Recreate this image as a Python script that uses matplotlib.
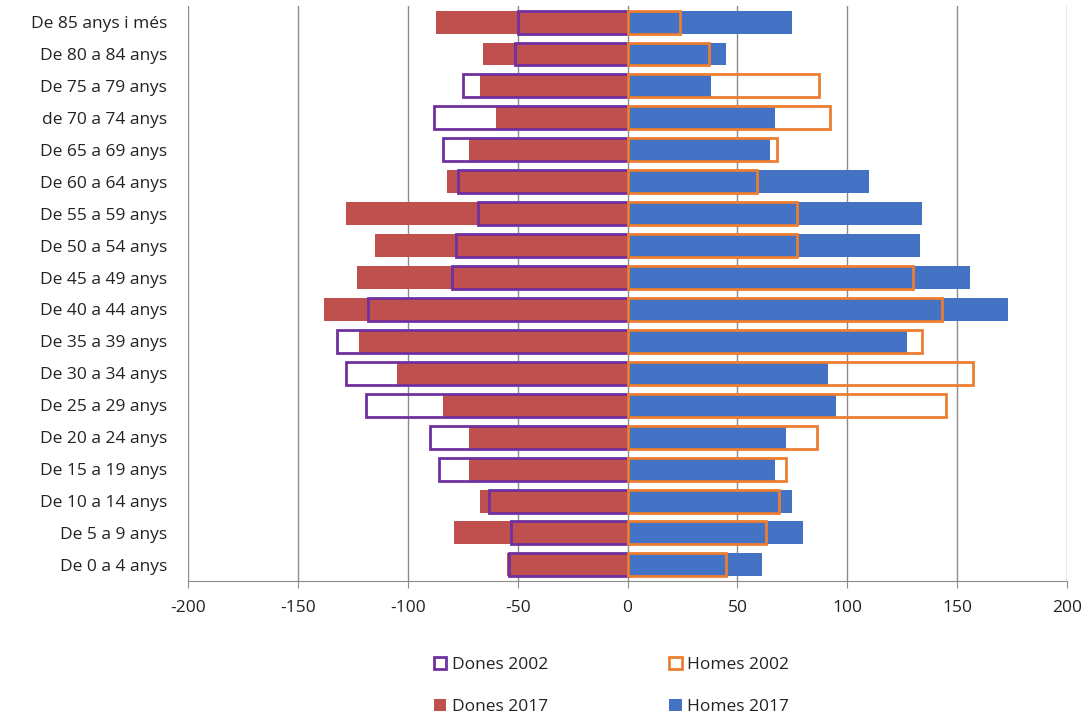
import numpy as np
import matplotlib.pyplot as plt

plt.rcParams['font.family'] = ['Open Sans', 'DejaVu Sans']
plt.rcParams['axes.unicode_minus'] = False

# age groups, bottom to top
grups = ['De 0 a 4 anys', 'De 5 a 9 anys', 'De 10 a 14 anys', 'De 15 a 19 anys',
         'De 20 a 24 anys', 'De 25 a 29 anys', 'De 30 a 34 anys', 'De 35 a 39 anys',
         'De 40 a 44 anys', 'De 45 a 49 anys', 'De 50 a 54 anys', 'De 55 a 59 anys',
         'De 60 a 64 anys', 'De 65 a 69 anys', 'de 70 a 74 anys', 'De 75 a 79 anys',
         'De 80 a 84 anys', 'De 85 anys i més']

dones_2017 = [55, 79, 67, 72, 72, 84, 105, 122, 138, 123, 115, 128, 82, 72, 60, 67, 66, 87]
dones_2002 = [54, 53, 63, 86, 90, 119, 128, 132, 118, 80, 78, 68, 77, 84, 88, 75, 51, 50]
homes_2017 = [61, 80, 75, 67, 72, 95, 91, 127, 173, 156, 133, 134, 110, 65, 67, 38, 45, 75]
homes_2002 = [45, 63, 69, 72, 86, 145, 157, 134, 143, 130, 77, 77, 59, 68, 92, 87, 37, 24]

col_dones17 = '#C0504D'
col_homes17 = '#4472C4'
col_dones02 = '#7030A0'
col_homes02 = '#ED7D31'

fig = plt.figure(figsize=(10.9, 7.18), dpi=100)
ax = fig.add_axes([0.1725, 0.191, 0.8065, 0.8005])

y = np.arange(len(grups))
h = 0.72

ax.barh(y, -np.array(dones_2017), height=h, color=col_dones17, zorder=2, label='Dones 2017')
ax.barh(y, homes_2017, height=h, color=col_homes17, zorder=2, label='Homes 2017')
ax.barh(y, -np.array(dones_2002), height=h, facecolor='none', edgecolor=col_dones02,
        linewidth=2, zorder=3, label='Dones 2002')
ax.barh(y, homes_2002, height=h, facecolor='none', edgecolor=col_homes02,
        linewidth=2, zorder=3, label='Homes 2002')

ax.set_xlim(-200, 200)
ax.set_ylim(-0.5, len(grups) - 0.5)
ax.set_xticks(np.arange(-200, 201, 50))
ax.set_yticks(y)
ax.set_yticklabels(grups, fontsize=12.5)
ax.tick_params(axis='x', labelsize=12.5, colors='#8c8c8c', labelcolor='#222222', length=5, pad=9)
ax.tick_params(axis='y', length=0, pad=15, labelcolor='#222222')
ax.grid(axis='x', color='#8c8c8c', linewidth=1, zorder=0)
ax.set_axisbelow(True)
for s in ['top', 'right', 'left']:
    ax.spines[s].set_visible(False)
ax.spines['bottom'].set_color('#8c8c8c')

handles, labels = ax.get_legend_handles_labels()
order = [2, 0, 3, 1]
fig.legend([handles[i] for i in order], [labels[i] for i in order],
           loc='center', bbox_to_anchor=(0.561, 0.045), ncol=2, frameon=False,
           fontsize=12.5, handlelength=0.7, handleheight=0.7, handletextpad=0.3,
           columnspacing=7.0, labelspacing=1.5, labelcolor='#222222')

fig.savefig('out.png', dpi=100)
